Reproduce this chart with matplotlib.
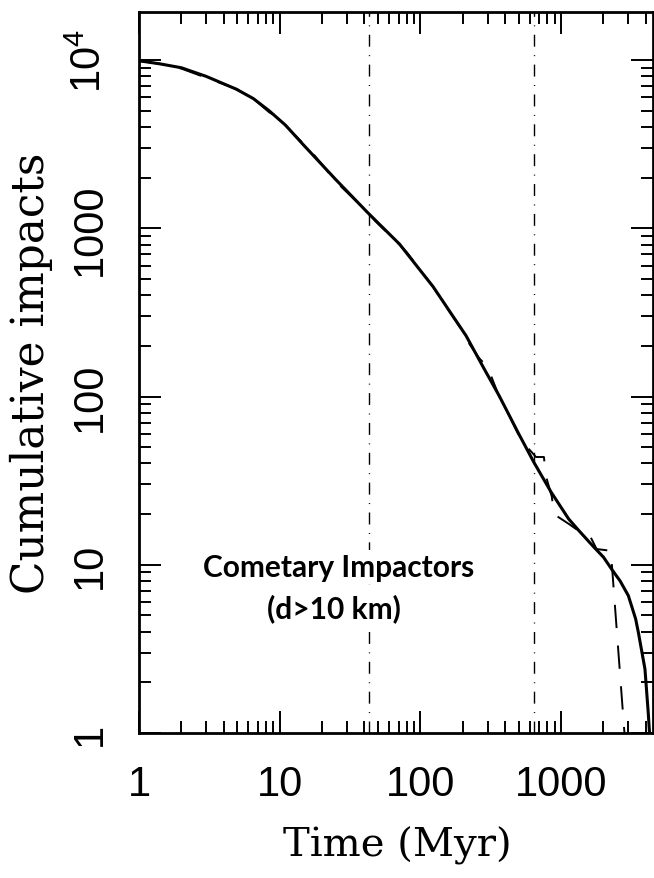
import numpy as np
import matplotlib
matplotlib.use('Agg')
import matplotlib.pyplot as plt

# Cumulative number of cometary impacts (d > 10 km) versus time

# smooth model curve
model_time = [1, 1.4, 2, 3, 4.9, 6.5, 8.4, 11, 14.4, 25, 42, 71, 123, 211, 284, 363, 500, 641,
              850, 1133, 1334, 1700, 2000, 2290, 2630, 3006, 3388, 3540, 3945, 4160, 4250]
model_impacts = [9900, 9500, 9000, 8000, 6720, 5900, 5000, 4100, 3200, 1950, 1244, 806, 450,
                 230, 146, 101, 60, 40.6, 27, 18.7, 16.0, 12.8, 11.1, 9.4, 8.0, 6.55, 4.76,
                 3.97, 2.40, 1.33, 1.0]

# simulated (stepped) cumulative counts
sim_time = [1, 1.4, 2, 5, 6.5, 8.4, 9.5, 14.4, 16, 25, 42, 48, 71, 80, 123, 140, 190, 211,
            260, 300, 363, 420, 520, 600, 663, 755, 780, 860, 888, 1133, 1334, 1570, 1787,
            2280, 2280, 2820]
sim_impacts = [9900, 9500, 8900, 6700, 5900, 4900, 4600, 3250, 3000, 1900, 1250, 1100, 800,
               720, 450, 380, 260, 220, 170, 150, 100, 80, 55, 48, 43.7, 43.7, 33.7, 25.3,
               20.0, 17.5, 15.9, 15.4, 12.4, 12.1, 10.8, 1.0]

# epochs marked with vertical dash-dot lines (Myr)
epochs = [43, 640]

xtick_vals = [1, 10, 100, 1000]
xtick_labels = ['1', '10', '100', '1000']
ytick_vals = [1, 10, 100, 1000, 10000]
ytick_labels = ['1', '10', '100', '1000', r'$\mathregular{10^{4}}$']

plt.rcParams['font.family'] = ['Liberation Sans', 'DejaVu Sans']
plt.rcParams['mathtext.fontset'] = 'custom'
plt.rcParams['mathtext.rm'] = 'Liberation Sans'

fig = plt.figure(figsize=[6.54, 8.79], dpi=100)
ax = fig.add_axes([139 / 654, 1 - 734 / 879, 514 / 654, 721 / 879])

ax.plot(model_time, model_impacts, color='black', lw=2.2, solid_capstyle='butt', zorder=3)
ax.plot(sim_time, sim_impacts, color='black', lw=1.4, linestyle=(0, (12, 9)), zorder=3)
for t in epochs:
    ax.axvline(t, color='black', lw=1.0, linestyle=(0, (8.6, 6.1, 0.7, 6.1)), zorder=1)

ax.set_xscale('log')
ax.set_yscale('log')
ax.set_xlim(1, 4500)
ax.set_ylim(1, 19300)

ax.set_xticks(xtick_vals)
ax.set_xticklabels(xtick_labels)
ax.set_yticks(ytick_vals)
ax.set_yticklabels(ytick_labels, rotation=90, va='center')

for s in ax.spines.values():
    s.set_linewidth(2.0)
ax.tick_params(which='both', direction='in', top=True, right=True, width=1.4)
ax.tick_params(which='major', length=15.5)
ax.tick_params(which='minor', length=8.6)
ax.tick_params(axis='x', which='major', labelsize=30, pad=22)
ax.tick_params(axis='y', which='major', labelsize=30, pad=21)

ax.set_xlabel('Time (Myr)', family='DejaVu Serif', fontsize=29)
ax.set_ylabel('Cumulative impacts', family='DejaVu Serif', fontsize=31.5)
ax.xaxis.set_label_coords(0.502, -0.155)
ax.yaxis.set_label_coords(-0.210, 0.5)
ax.xaxis.label.set_va('center')
ax.yaxis.label.set_va('center')

# annotation pasted on a white patch, hides the dash-dot line behind it
ax.text(2.85, 8.57, 'Cometary Impactors', family='Lato', fontweight='bold', fontsize=21.5,
        va='baseline', ha='left', zorder=4,
        bbox=dict(facecolor='white', edgecolor='none', pad=2))
ax.text(8.1, 4.85, '(d>10 km)', family='Lato', fontweight='bold', fontsize=21.5,
        va='baseline', ha='left', zorder=4,
        bbox=dict(facecolor='white', edgecolor='none', pad=2))

plt.savefig('out.png', dpi=100)
